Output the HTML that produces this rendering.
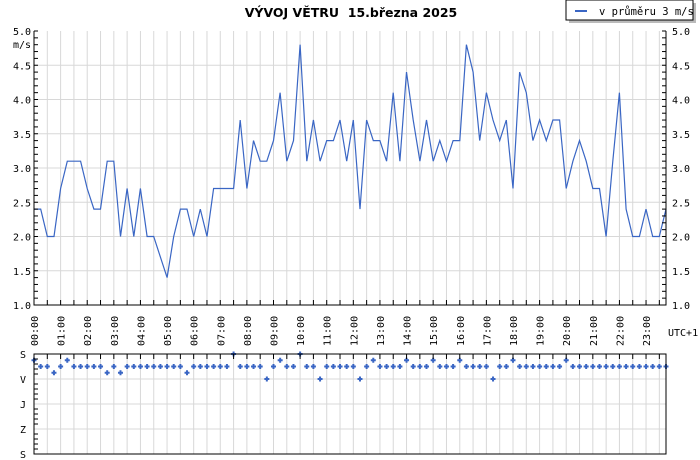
<!DOCTYPE html>
<html><head><meta charset="utf-8"><style>
html,body{margin:0;padding:0;background:#fff;width:700px;height:460px;overflow:hidden}
svg{display:block}
text{font-family:"DejaVu Sans Mono","Liberation Mono",monospace;font-size:10px;fill:#000}
</style></head><body>
<svg id="chart" width="700" height="460" xmlns="http://www.w3.org/2000/svg">
<text x="351" y="17" text-anchor="middle" style="font-family:'DejaVu Sans',sans-serif;font-weight:bold;font-size:12.5px;white-space:pre">VÝVOJ VĚTRU&#160; 15.března 2025</text>
<g>
<rect x="569" y="3" width="127" height="20" fill="#bbb"/>
<rect x="566" y="0" width="127" height="20" fill="#fff" stroke="#000"/>
<line x1="575" y1="11" x2="587" y2="11" stroke="#3a66c4" stroke-width="2"/>
<text x="599" y="15" style="font-size:10.5px">v průměru 3 m/s</text>
</g>
<g id="grid"></g>
<g id="marks"></g>
<g id="axes"></g>
</svg>
<script>
const speedValues=[2.4,2.4,2.0,2.0,2.7,3.1,3.1,3.1,2.7,2.4,2.4,3.1,3.1,2.0,2.7,2.0,2.7,2.0,2.0,1.7,1.4,2.0,2.4,2.4,2.0,2.4,2.0,2.7,2.7,2.7,2.7,3.7,2.7,3.4,3.1,3.1,3.4,4.1,3.1,3.4,4.8,3.1,3.7,3.1,3.4,3.4,3.7,3.1,3.7,2.4,3.7,3.4,3.4,3.1,4.1,3.1,4.4,3.7,3.1,3.7,3.1,3.4,3.1,3.4,3.4,4.8,4.4,3.4,4.1,3.7,3.4,3.7,2.7,4.4,4.1,3.4,3.7,3.4,3.7,3.7,2.7,3.1,3.4,3.1,2.7,2.7,2.0,3.1,4.1,2.4,2.0,2.0,2.4,2.0,2.0,2.4];
const dirValues=[22.5,45,45,67.5,45,22.5,45,45,45,45,45,67.5,45,67.5,45,45,45,45,45,45,45,45,45,67.5,45,45,45,45,45,45,0,45,45,45,45,90,45,22.5,45,45,0,45,45,90,45,45,45,45,45,90,45,22.5,45,45,45,45,22.5,45,45,45,22.5,45,45,45,22.5,45,45,45,45,90,45,45,22.5,45,45,45,45,45,45,45,22.5,45,45,45,45,45,45,45,45,45,45,45,45,45,45,45];
const speedTicks=["1.0","1.5","2.0","2.5","3.0","3.5","4.0","4.5","5.0"];
const dirTicks=["S","V","J","Z","S"];
const hourLabels=["00:00","01:00","02:00","03:00","04:00","05:00","06:00","07:00","08:00","09:00","10:00","11:00","12:00","13:00","14:00","15:00","16:00","17:00","18:00","19:00","20:00","21:00","22:00","23:00"];
const NS='http://www.w3.org/2000/svg';
const X0=34,X1=666,Y0=31,Y1=305,D0=354,D1=454;
const xs=i=>X0+(X1-X0)*i/(speedValues.length-1);
const xh=h=>X0+(X1-X0)*h/23.75;
const ys=v=>Y1-(v-1)/4*(Y1-Y0);
const yd=d=>D0+d/360*(D1-D0);
function mk(tag,a,p){const e=document.createElementNS(NS,tag);for(const k in a)e.setAttribute(k,a[k]);p.appendChild(e);return e;}
const grid=document.getElementById('grid'),marks=document.getElementById('marks'),axes=document.getElementById('axes');
for(let h=0.5;h<23.75;h+=0.5){
  for(const [a,b] of [[Y0,Y1],[D0,D1]]){
    const l=mk('line',{x1:xh(h),x2:xh(h),y1:a,y2:b,stroke:'#d8d8d8'},grid);
    
    
  }
}
speedTicks.forEach((t,i)=>{
  const v=parseFloat(t),y=ys(v);
  if(i>0&&i<speedTicks.length-1){const l=mk('line',{x1:X0,x2:X1,y1:y,y2:y,stroke:'#d8d8d8'},grid);
  
  }
  const a=mk('text',{x:31,y:y+4,'text-anchor':'end'},axes);a.textContent=t;
  
  
  const b=mk('text',{x:672,y:y+4},axes);b.textContent=t;
  
  
});
for(let v=1.1;v<5;v+=0.1){const y=ys(v);
  mk('line',{x1:X0,x2:X0+4,y1:y,y2:y,stroke:'#000'},axes);
  mk('line',{x1:X1-4,x2:X1,y1:y,y2:y,stroke:'#000'},axes);}
dirTicks.forEach((t,i)=>{const y=D0+i*25;
  if(i>0&&i<4){const l=mk('line',{x1:X0,x2:X1,y1:y,y2:y,stroke:'#d8d8d8'},grid);
  
  }
  const a=mk('text',{x:26,y:y+4,'text-anchor':'end'},axes);a.textContent=t;
  
  
});
for(let d=5;d<100;d+=5){const y=D0+d;if(d%25)mk('line',{x1:X0,x2:X0+4,y1:y,y2:y,stroke:'#000'},axes);}
const u=mk('text',{x:31,y:48,'text-anchor':'end'},axes);u.textContent='m/s';


hourLabels.forEach((t,h)=>{
  const x=xh(h);
  const a=mk('text',{transform:`translate(${x+4},346) rotate(-90)`},axes);a.textContent=t;
  
  
});
for(let h=0;h<=23.5;h+=0.5){mk('line',{x1:xh(h),x2:xh(h),y1:Y1-5,y2:Y1,stroke:'#000'},axes);mk('line',{x1:xh(h),x2:xh(h),y1:D0,y2:D0+5,stroke:'#000'},axes);}
const tz=mk('text',{x:668,y:336},axes);tz.textContent='UTC+1';


const f1=mk('path',{d:`M${X0} ${Y0}V${Y1}H${X1}V${Y0}`,fill:'none',stroke:'#000'},axes);


const f2=mk('rect',{x:X0,y:D0,width:X1-X0,height:D1-D0,fill:'none',stroke:'#000'},axes);


const line=mk('polyline',{points:speedValues.map((v,i)=>xs(i).toFixed(1)+','+ys(v).toFixed(1)).join(' '),fill:'none',stroke:'#3a66c4','stroke-width':1.2},marks);


dirValues.forEach((d,i)=>{
  const x=xs(i),y=yd(d);
  const p=mk('path',{d:`M${x-2.5} ${y}H${x+2.5}M${x} ${y-2.5}V${y+2.5}`,stroke:'#3a66c4','stroke-width':2},marks);
  
  
});
</script>
</body></html>
